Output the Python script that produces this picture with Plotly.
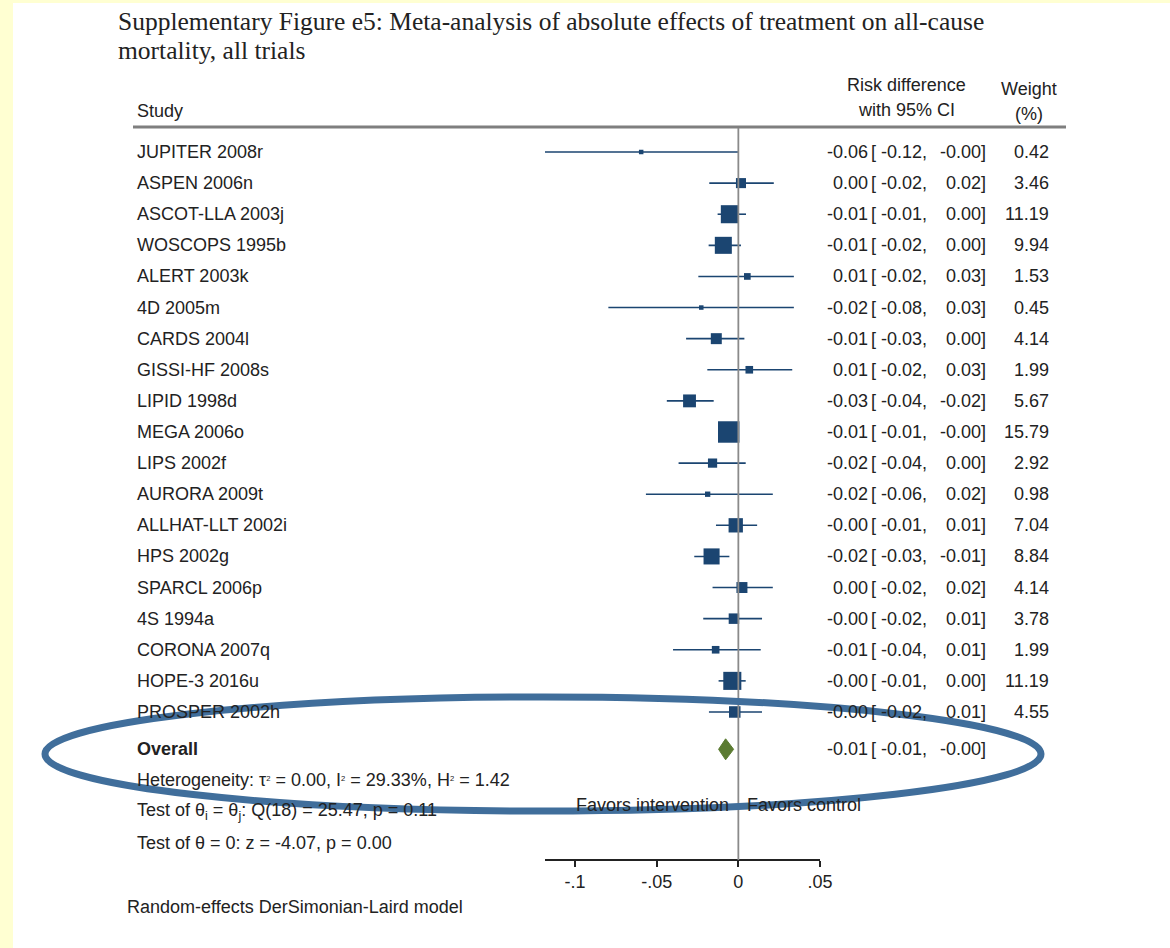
import math
import plotly.graph_objects as go

W, H = 1170, 948

# ---- study-level results: risk difference, 95% CI, random-effects weight (%) ----
studies = [
    "JUPITER 2008r", "ASPEN 2006n", "ASCOT-LLA 2003j", "WOSCOPS 1995b",
    "ALERT 2003k", "4D 2005m", "CARDS 2004l", "GISSI-HF 2008s",
    "LIPID 1998d", "MEGA 2006o", "LIPS 2002f", "AURORA 2009t",
    "ALLHAT-LLT 2002i", "HPS 2002g", "SPARCL 2006p", "4S 1994a",
    "CORONA 2007q", "HOPE-3 2016u", "PROSPER 2002h",
]
rd = [-0.0595, 0.0016, -0.0052, -0.0092, 0.0055, -0.0227, -0.0135, 0.0067,
      -0.0299, -0.0059, -0.0158, -0.0188, -0.0016, -0.0164, 0.0022, -0.0027,
      -0.0139, -0.0037, -0.0022]
ci_lo = [-0.1184, -0.0178, -0.0127, -0.0182, -0.0245, -0.0796, -0.0320, -0.0190,
         -0.0438, -0.0105, -0.0366, -0.0566, -0.0137, -0.0270, -0.0158, -0.0215,
         -0.0400, -0.0121, -0.0180]
ci_hi = [-0.0002, 0.0217, 0.0047, 0.0016, 0.0340, 0.0340, 0.0037, 0.0330,
         -0.0151, -0.0005, 0.0045, 0.0211, 0.0115, -0.0055, 0.0211, 0.0145,
         0.0137, 0.0045, 0.0145]
weight = [0.42, 3.46, 11.19, 9.94, 1.53, 0.45, 4.14, 1.99, 5.67, 15.79,
          2.92, 0.98, 7.04, 8.84, 4.14, 3.78, 1.99, 11.19, 4.55]

# ---- pooled estimate and test statistics ----
overall_rd, overall_lo, overall_hi = -0.0078, -0.0121, -0.0029
tau2, i2, h2 = 0.00, 29.33, 1.42
q_stat, q_df, q_p = 25.47, 18, 0.11
z_stat, z_p = -4.07, 0.00

xtick_vals = [-0.1, -0.05, 0, 0.05]
xtick_text = ["-.1", "-.05", "0", ".05"]
x_max = 0.05

# ---- styling ----
SANS = "Liberation Sans, Arial, sans-serif"
SERIF = "Liberation Serif, Times New Roman, serif"
TXT = "#222222"
NAVY = "#1B4571"
GREEN = "#5B7B31"
GRAY = "#8A8A8A"
FS = 18

ROW0, ROW_STEP = 152.0, 31.11   # pixel centre of first row, row spacing
OVERALL_ROW = len(studies) + 0.2


def px(x):
    return x / W


def py(y):
    return 1 - y / H


def fmt(v):
    return f"{v:.2f}"


def sup(s):
    return f"<span style='font-size:11px'><sup>{s}</sup></span>"


fig = go.Figure()

# confidence-interval whiskers
wx, wy = [], []
for i, (lo, hi) in enumerate(zip(ci_lo, ci_hi)):
    wx += [lo, hi, None]
    wy += [i, i, None]
fig.add_trace(go.Scatter(x=wx, y=wy, mode="lines",
                         line=dict(color=NAVY, width=1.6),
                         hoverinfo="skip", showlegend=False, cliponaxis=False))

# weight-scaled squares
fig.add_trace(go.Scatter(
    x=rd, y=list(range(len(studies))), mode="markers",
    marker=dict(symbol="square", color=NAVY, opacity=1,
                size=[max(4.5, 5.4 * math.sqrt(w)) for w in weight],
                line=dict(width=0)),
    showlegend=False, cliponaxis=False,
))

# pooled-estimate diamond
half_h = 10.5 / ROW_STEP
fig.add_trace(go.Scatter(
    x=[overall_lo, overall_rd, overall_hi, overall_rd, overall_lo],
    y=[OVERALL_ROW, OVERALL_ROW - half_h, OVERALL_ROW, OVERALL_ROW + half_h, OVERALL_ROW],
    mode="lines", fill="toself", fillcolor=GREEN,
    line=dict(color=GREEN, width=1), showlegend=False, cliponaxis=False,
))

ann = []


def text(x, y, s, xanchor="left", yref="paper", size=FS, font=SANS, bold=False):
    ann.append(dict(
        x=x, y=y, xref="paper", yref=yref, text=f"<b>{s}</b>" if bold else s,
        showarrow=False, xanchor=xanchor, yanchor="middle",
        font=dict(family=font, size=size, color=TXT),
    ))


# title
text(px(116), py(21), "Supplementary Figure e5: Meta-analysis of absolute effects of treatment on all-cause",
     size=25.5, font=SERIF)
text(px(116), py(50), "mortality, all trials", size=25.5, font=SERIF)

# column headers
text(px(135), py(111), "Study")
text(px(906), py(85), "Risk difference", xanchor="center")
text(px(906), py(110), "with 95% CI", xanchor="center")
text(px(1029), py(89), "Weight", xanchor="center")
text(px(1029), py(114), "(%)", xanchor="center")


def ci_columns(row, est, lo, hi):
    text(px(870), row, fmt(est), xanchor="right", yref="y")
    text(px(869), row, "[", yref="y")
    text(px(929), row, fmt(lo) + ",", xanchor="right", yref="y")
    text(px(988), row, fmt(hi) + "]", xanchor="right", yref="y")


# study rows
for i, name in enumerate(studies):
    text(px(135), i, name, yref="y")
    ci_columns(i, rd[i], ci_lo[i], ci_hi[i])
    text(px(1051), i, fmt(weight[i]), xanchor="right", yref="y")

# pooled row and summary statistics
text(px(135), OVERALL_ROW, "Overall", yref="y", bold=True)
ci_columns(OVERALL_ROW, overall_rd, overall_lo, overall_hi)

text(px(135), py(780),
     f"Heterogeneity: τ{sup(2)} = {tau2:.2f}, I{sup(2)} = {i2:.2f}%, H{sup(2)} = {h2:.2f}")
text(px(135), py(811),
     f"Test of θ<sub>i</sub> = θ<sub>j</sub>: Q({q_df}) = {q_stat:.2f}, p = {q_p:.2f}")
text(px(135), py(843), f"Test of θ = 0: z = {z_stat:.2f}, p = {z_p:.2f}")
text(px(731), py(805), "Favors intervention", xanchor="right")
text(px(745), py(805), "Favors control")
text(px(125), py(907), "Random-effects DerSimonian-Laird model")

shapes = [
    # white page on the yellow backdrop
    dict(type="rect", xref="paper", yref="paper", x0=px(13), x1=1, y0=0, y1=py(3),
         fillcolor="white", line=dict(width=0), layer="below"),
    # header rule
    dict(type="line", xref="paper", yref="paper", x0=px(133), x1=px(1066),
         y0=py(127), y1=py(127), line=dict(color="#7F7F7F", width=3)),
    # line of no effect
    dict(type="line", xref="x", yref="paper", x0=0, x1=0, y0=py(128), y1=py(860),
         line=dict(color=GRAY, width=1.8), layer="above"),
    # highlight oval around the pooled result
    dict(type="circle", xref="paper", yref="paper", x0=px(45), x1=px(1041),
         y0=py(697), y1=py(811), line=dict(color="#406E9B", width=7), layer="above"),
]

fig.update_layout(
    width=W, height=H, autosize=False,
    margin=dict(l=0, r=0, t=0, b=0, pad=0, autoexpand=False),
    paper_bgcolor="#FFFFD2",
    plot_bgcolor="rgba(0,0,0,0)",
    showlegend=False,
    annotations=ann,
    shapes=shapes,
    xaxis=dict(
        domain=[px(545), px(820)], range=[min(ci_lo), x_max],
        anchor="free", position=py(860), automargin=False,
        showline=True, linecolor=TXT, linewidth=1.5,
        ticks="outside", ticklen=6, tickwidth=1.5, tickcolor=TXT,
        tickvals=xtick_vals, ticktext=xtick_text,
        tickfont=dict(family=SANS, size=FS, color=TXT),
        showgrid=False, zeroline=False, fixedrange=True,
    ),
    yaxis=dict(
        domain=[0, 1], automargin=False,
        range=[(H - ROW0) / ROW_STEP, -ROW0 / ROW_STEP],
        visible=False, showgrid=False, zeroline=False, fixedrange=True,
    ),
)

fig.write_html(
    "out.html",
    config={"displayModeBar": False},
    post_script="document.body.style.margin='0';document.body.style.overflow='hidden';",
)
